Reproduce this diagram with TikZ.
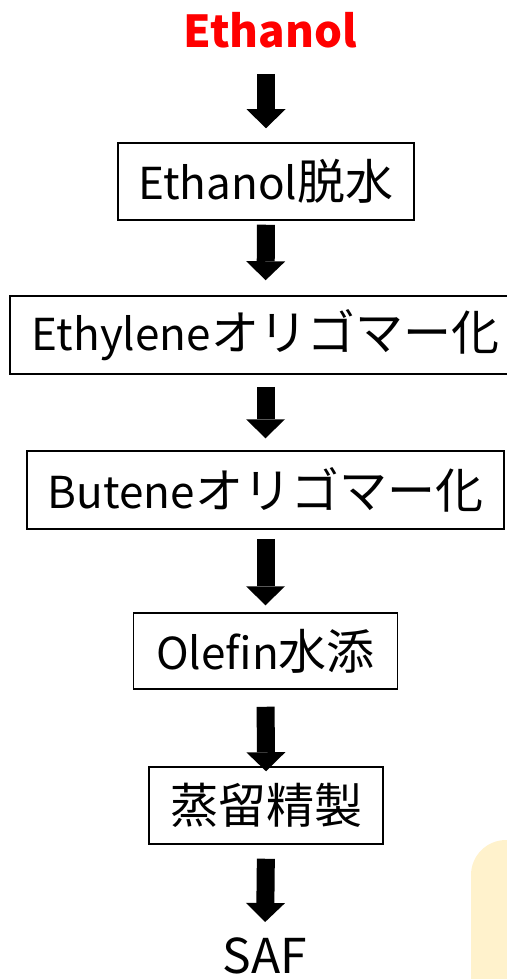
\documentclass[tikz,border=0pt]{standalone}
\usepackage{fontspec}
\setmainfont{Noto Sans CJK JP}
\usetikzlibrary{arrows.meta}
\definecolor{paleyellow}{HTML}{FFF2CC}
\newcommand\cjkbig[1]{{\fontsize{48}{50}\selectfont #1}}
\tikzset{
  stepbox/.style={draw=black, line width=1.5pt, inner sep=0pt, font=\fontsize{44}{50}\selectfont, text=black},
  bigarrow/.style={line width=18pt, -{Triangle[width=39pt,length=19pt,line width=0pt]}, black},
}
\begin{document}
\begin{tikzpicture}[x=1pt,y=-1pt]
\useasboundingbox (0,0) rectangle (506,979);
\fill[paleyellow] (471,990) -- (471,875) arc[start angle=180,end angle=270,radius=35] -- (520,840) -- (520,990) -- cycle;
\node[anchor=base, inner sep=0pt, text=red, font=\fontsize{44}{50}\selectfont\bfseries] (title) at (270.5,48) {Ethanol};
\node[stepbox, minimum width=296pt, minimum height=77pt] (b1) at (266,181.5) {Ethanol\cjkbig{脱水}};
\node[stepbox, minimum width=511pt, minimum height=78pt] (b2) at (265.5,335) {Ethylene\cjkbig{オリゴマー化}};
\node[stepbox, minimum width=477pt, minimum height=78pt] (b3) at (265.5,490) {Butene\cjkbig{オリゴマー化}};
\node[stepbox, minimum width=264pt, minimum height=76pt] (b4) at (265.5,651) {Olefin\cjkbig{水添}};
\node[stepbox, minimum width=234pt, minimum height=77pt] (b5) at (266,805.5) {\cjkbig{蒸留精製}};
\node[anchor=base, inner sep=0pt, font=\fontsize{48}{50}\selectfont] (saf) at (265,973) {SAF};
\draw[bigarrow, shorten <=25pt, shorten >=14pt] (b1.north |- title.south) -- (b1.north);
\draw[bigarrow, shorten <=4pt, shorten >=15pt] (b1.south) -- (b2.north);
\draw[bigarrow, shorten <=12pt, shorten >=12pt] (b2.south) -- (b3.north);
\draw[bigarrow, shorten <=9pt, shorten >=7pt] (b3.south) -- (b4.north);
\draw[bigarrow, shorten <=17pt, shorten >=-5pt] (b4.south) -- (b5.north);
\draw[bigarrow, shorten <=14pt, shorten >=15pt] (b5.south) -- (saf.north);
\end{tikzpicture}
\end{document}
